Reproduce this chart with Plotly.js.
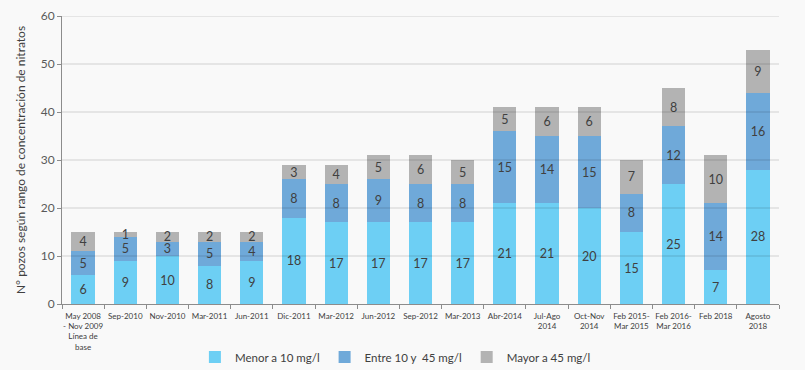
<!DOCTYPE html>
<html>
<head>
<meta charset="utf-8">
<script src="https://cdn.plot.ly/plotly-3.0.1.min.js"></script>
<style>body{margin:0;padding:0;background:#f9f9f9;}#chart{width:805px;height:370px;}</style>
</head>
<body>
<div id="chart"></div>
<script>
const categories = [
  "May 2008<br>- Nov 2009<br>Línea de<br>base", "Sep-2010", "Nov-2010", "Mar-2011", "Jun-2011",
  "Dic-2011", "Mar-2012", "Jun-2012", "Sep-2012", "Mar-2013", "Abr-2014",
  "Jul-Ago<br>2014", "Oct-Nov<br>2014", "Feb 2015-<br>Mar 2015", "Feb 2016-<br>Mar 2016",
  "Feb 2018", "Agosto<br>2018"
];
const menor10 = [6, 9, 10, 8, 9, 18, 17, 17, 17, 17, 21, 21, 20, 15, 25, 7, 28];
const entre10y45 = [5, 5, 3, 5, 4, 8, 8, 9, 8, 8, 15, 14, 15, 8, 12, 14, 16];
const mayor45 = [4, 1, 2, 2, 2, 3, 4, 5, 6, 5, 5, 6, 6, 7, 8, 10, 9];
const seriesNames = ["Menor a 10 mg/l", "Entre 10 y  45 mg/l", "Mayor a 45 mg/l"];
const yTicks = [0, 10, 20, 30, 40, 50, 60];

const font = "Lato, 'Open Sans', sans-serif";
const colors = ["#6dcff4", "#6fa9d9", "#b3b3b3"];
const mk = (vals, i) => ({
  type: "bar", x: categories, y: vals, name: seriesNames[i],
  marker: {color: colors[i]},
  text: vals.map(String), textposition: "inside", insidetextanchor: "middle", textangle: 0,
  textfont: {family: font, size: 12.5, color: "#404040"},
  constraintext: "none", cliponaxis: false, hoverinfo: "none"
});
const data = [mk(menor10, 0), mk(entre10y45, 1), mk(mayor45, 2)];

const shapes = yTicks.filter(v => v > 0).map(v => ({
  type: "line", xref: "paper", x0: 0, x1: 1, yref: "y", y0: v, y1: v,
  line: {color: "rgba(0,0,0,0.16)", width: 1}, layer: "above"
}));

const layout = {
  width: 805, height: 370,
  paper_bgcolor: "#f9f9f9", plot_bgcolor: "#f9f9f9",
  margin: {l: 62, r: 26, t: 16, b: 66, autoexpand: false},
  barmode: "stack", bargap: 0.45,
  showlegend: true,
  legend: {orientation: "h", traceorder: "normal", x: 0.465, xanchor: "center", yref: "container", y: 0.035, yanchor: "middle",
    font: {family: font, size: 11.5, color: "#404040"}, itemwidth: 30},
  font: {family: font, color: "#595959"},
  xaxis: {
    type: "category", tickson: "boundaries", ticks: "outside", ticklen: 4, tickcolor: "#8c8c8c",
    showline: true, linecolor: "#8c8c8c", linewidth: 1, showgrid: false, ticklabelstandoff: 4,
    tickfont: {family: font, size: 8, color: "#404040"}, tickangle: 0, automargin: false
  },
  yaxis: {
    range: [0, 60], tickvals: yTicks, ticks: "outside", ticklen: 4, tickcolor: "#8c8c8c",
    showline: true, linecolor: "#8c8c8c", linewidth: 1, showgrid: false, zeroline: false,
    tickfont: {family: font, size: 12, color: "#595959"},
    title: {text: "N° pozos según rango de concentración de nitratos", font: {family: font, size: 12, color: "#404040"}, standoff: 12},
    automargin: false
  },
  shapes: shapes
};
Plotly.newPlot("chart", data, layout, {staticPlot: true, displayModeBar: false});
</script>
</body>
</html>
